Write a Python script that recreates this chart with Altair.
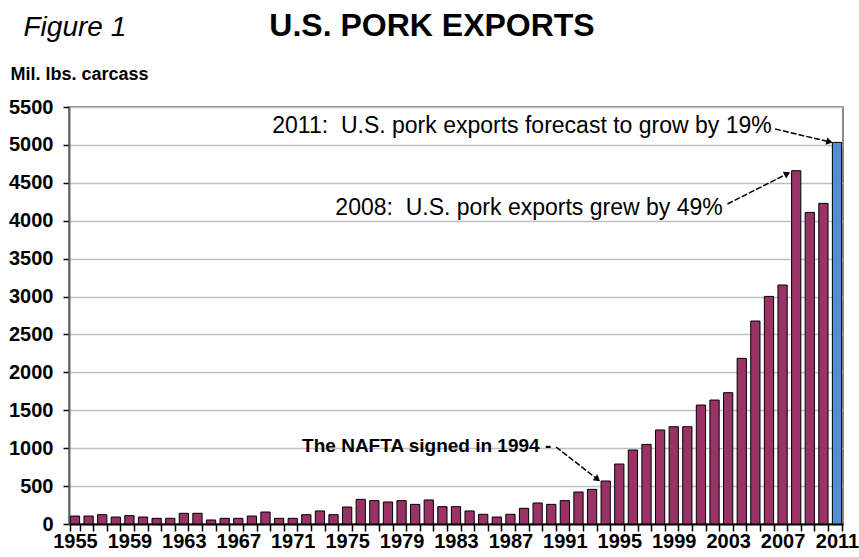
import math
import altair as alt
import pandas as pd

# ---- data ----
years = list(range(1955, 2012))
exports = [105, 105, 123, 92, 110, 92, 75, 75, 141, 141, 53, 75, 75, 105, 158, 75, 75, 123,
           172, 123, 224, 325, 308, 290, 308, 259, 317, 229, 229, 172, 128, 92, 128, 207,
           277, 259, 308, 422, 457, 567, 791, 976, 1050, 1240, 1283, 1283, 1569, 1635, 1732,
           2185, 2677, 3002, 3152, 4660, 4110, 4229, 5033]
status = ["Actual"] * 56 + ["Forecast"]

top_notes = ["2011:\u00a0 U.S. pork exports forecast to grow by 19%",
             "2008:\u00a0 U.S. pork exports grew by 49%"]
top_note_x = [2006.2, 2002.6]
top_note_y = [5157, 4076]

nafta_note = ["The NAFTA signed in 1994 -"]
nafta_note_x = [1990.0]
nafta_note_y = [950]

arrow_x1 = [2006.45, 2002.95, 1990.35]
arrow_y1 = [5210, 4221, 1016]
arrow_x2 = [2010.45, 2007.35, 1993.4]
arrow_y2 = [5040, 4620, 590]

# ---- layout ----
W, H = 774, 417
Y_MAX = 5500
PAD_IN, PAD_OUT = 0.32, 0.1
n = len(years)
step = W / (n - PAD_IN + 2 * PAD_OUT)
half = PAD_OUT + (1 - PAD_IN) / 2
x_dom = [years[0] - half, years[-1] + half]

FONT = "Liberation Sans"

bars_df = pd.DataFrame({"year": years, "exports": exports, "status": status})
top_df = pd.DataFrame({"text": top_notes, "x": top_note_x, "y": top_note_y})
nafta_df = pd.DataFrame({"text": nafta_note, "x": nafta_note_x, "y": nafta_note_y})
arr_df = pd.DataFrame({"x1": arrow_x1, "y1": arrow_y1, "x2": arrow_x2, "y2": arrow_y2})
arr_df["ang"] = [
    math.degrees(math.atan2(-(b2 - b1) * H / Y_MAX, (a2 - a1) * step)) % 360
    for a1, b1, a2, b2 in zip(arrow_x1, arrow_y1, arrow_x2, arrow_y2)
]

y_scale = alt.Scale(domain=[0, Y_MAX], nice=False, zero=True)
xq_scale = alt.Scale(domain=x_dom, nice=False, zero=False)

bars = alt.Chart(bars_df).mark_bar(stroke="black", strokeWidth=1).encode(
    x=alt.X("year:O",
            scale=alt.Scale(paddingInner=PAD_IN, paddingOuter=PAD_OUT),
            axis=alt.Axis(
                title="Figure 1", titleX=-46, titleY=-489, titleAlign="left",
                titleAnchor="start", titleBaseline="alphabetic", titleFont=FONT,
                titleFontSize=28, titleFontStyle="italic", titleFontWeight="normal",
                titleColor="black",
                labelExpr="(datum.value - 1955) % 4 == 0 ? datum.label : ''",
                labelAngle=0, labelFont=FONT, labelFontSize=20, labelFontWeight="bold",
                labelColor="black", labelOverlap=False, labelPadding=0,
                tickBand="extent", tickColor="black", tickSize=7, tickWidth=1.5,
                domainColor="black", domainWidth=2, grid=False)),
    y=alt.Y("exports:Q", scale=y_scale,
            axis=alt.Axis(
                values=list(range(0, Y_MAX + 1, 500)), format="d",
                title="Mil. lbs. carcass", titleAngle=0, titleX=-59, titleY=-28,
                titleAlign="left", titleAnchor="start", titleBaseline="alphabetic",
                titleFont=FONT, titleFontSize=18, titleFontWeight="bold", titleColor="black",
                labelFont=FONT, labelFontSize=20, labelFontWeight="bold", labelColor="black",
                labelPadding=10, tickColor="black", tickSize=6, tickWidth=1.5,
                domainColor="#666666", domainWidth=2,
                gridColor="#bfbfbf", gridWidth=1.5)),
    color=alt.Color("status:N",
                    scale=alt.Scale(domain=["Actual", "Forecast"],
                                    range=["#993366", "#558ED5"]),
                    legend=None),
)

top_text = alt.Chart(top_df).mark_text(
    align="right", baseline="alphabetic", font=FONT, fontSize=23, color="black"
).encode(
    x=alt.X("x:Q", scale=xq_scale, axis=None),
    y=alt.Y("y:Q", scale=y_scale, axis=None),
    text="text:N",
)

nafta_text = alt.Chart(nafta_df).mark_text(
    align="right", baseline="alphabetic", font=FONT, fontSize=19, fontWeight="bold",
    color="black"
).encode(
    x=alt.X("x:Q", scale=xq_scale, axis=None),
    y=alt.Y("y:Q", scale=y_scale, axis=None),
    text="text:N",
)

arrows = alt.Chart(arr_df).mark_rule(color="black", strokeWidth=1.5, strokeDash=[6, 2]).encode(
    x=alt.X("x1:Q", scale=xq_scale, axis=None),
    x2="x2:Q",
    y=alt.Y("y1:Q", scale=y_scale, axis=None),
    y2="y2:Q",
)

heads = alt.Chart(arr_df).mark_point(
    shape="triangle-right", filled=True, color="black", size=55, opacity=1
).encode(
    x=alt.X("x2:Q", scale=xq_scale, axis=None),
    y=alt.Y("y2:Q", scale=y_scale, axis=None),
    angle=alt.Angle("ang:Q", scale=None),
)

notes = alt.layer(arrows, heads, top_text, nafta_text)

chart = alt.layer(bars, notes).resolve_scale(x="independent", y="independent").properties(
    width=W, height=H,
    autosize=alt.AutoSizeParams(type="none"),
    padding={"left": 69, "top": 107, "right": 16, "bottom": 33},
    title=alt.TitleParams("U.S. PORK EXPORTS", font=FONT, fontSize=32, fontWeight="bold",
                          color="black", anchor="middle", frame="group", dx=-24,
                          baseline="alphabetic", offset=-55),
    background="white",
).configure_view(stroke="#8c8c8c", strokeWidth=2)

chart.save("out.html", embed_options={"renderer": "svg", "actions": False})
